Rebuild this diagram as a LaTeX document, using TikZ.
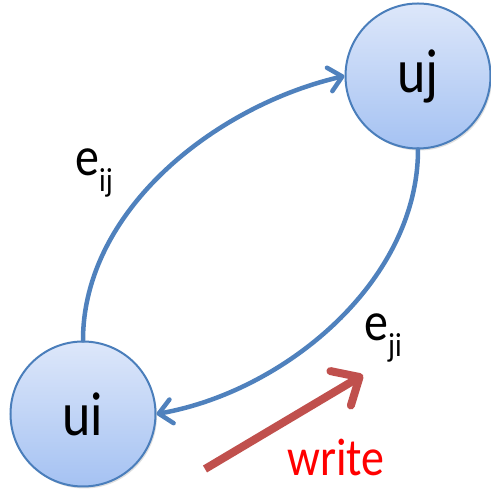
\documentclass[tikz,border=0pt]{standalone}
\usepackage{fontspec}
\setmainfont{Carlito}
\usetikzlibrary{arrows.meta,shadows}
\definecolor{edgeblue}{HTML}{4F81BD}
\definecolor{rimblue}{HTML}{4A7EBB}
\definecolor{writered}{HTML}{C0504D}
\definecolor{vtop}{HTML}{DDE7FA}
\definecolor{vbottom}{HTML}{A5C2F2}
\newcommand{\tall}[1]{\scalebox{1}[1.15]{#1}}
\begin{document}
\begin{tikzpicture}[x=1pt,y=1pt,
  vertex/.style={circle, draw=rimblue, line width=2pt, minimum size=145pt, inner sep=0pt,
    top color=vtop, bottom color=vbottom,
    drop shadow={opacity=0.25, shadow xshift=1.5pt, shadow yshift=-2pt},
    font=\fontsize{54}{54}\selectfont},
  edge/.style={draw=edgeblue, line width=4.5pt, line cap=round, looseness=0.9,
    -{Straight Barb[length=13pt,width=24pt,line cap=round,line join=round]}},
  writearrow/.style={draw=writered, line width=8pt,
    -{Straight Barb[length=22pt,width=40pt,line cap=round,line join=round]}},
  lbl/.style={font=\fontsize{48}{48}\selectfont, inner sep=0pt}]
\useasboundingbox (0,0) rectangle (491,489);
\node[vertex] (ui) at (83,75) {\tall{ui}};
\node[vertex] (uj) at (418,413) {\tall{uj}};
\draw[edge] (ui.north) to[out=90,in=193] (uj.west);
\draw[edge] (uj.south) to[out=-90,in=10] (ui.east);
\node[lbl] (eij) at (94,316) {\tall{e\raisebox{-0.3em}{\fontsize{29}{29}\selectfont ij}}};
\node[lbl] (eji) at (383,151) {\tall{e\raisebox{-0.3em}{\fontsize{29}{29}\selectfont ji}}};
\coordinate (ws) at (205,20);
\coordinate (wt) at (363,114);
\draw[writearrow] (ws) -- (wt);
\node[lbl, text=red, font=\fontsize{46}{46}\selectfont] (write) at (336,31) {\tall{write}};
\end{tikzpicture}
\end{document}
